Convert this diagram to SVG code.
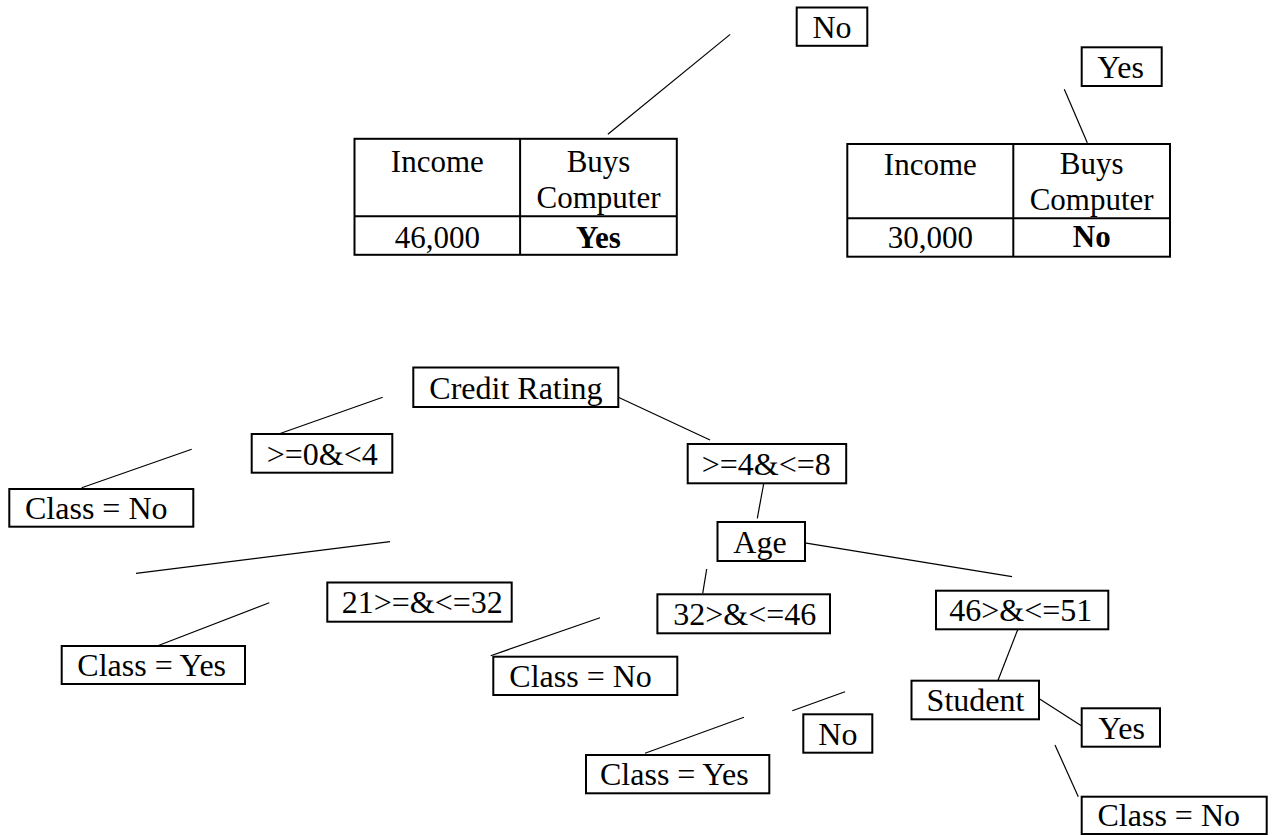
<svg xmlns="http://www.w3.org/2000/svg" width="1274" height="835" viewBox="0 0 1274 835">
<style>
  .bg { fill: #ffffff; }
  .box { fill: #ffffff; stroke: #000000; stroke-width: 2; }
  .tbl { fill: none; stroke: #000000; stroke-width: 2; }
  .t { font-size: 32px; fill: #000000; }
  .tt { font-size: 31px; fill: #000000; text-anchor: middle; }
  .b { font-weight: bold; }
  .conn line { stroke: #000000; stroke-width: 1.2; }
</style>
<rect class="bg" x="0" y="0" width="1274" height="835"/>

<g id="connectors" class="conn">
  <line x1="730.2" y1="34.4" x2="607.9" y2="134.3"/>
  <line x1="1064.3" y1="89.3" x2="1087.3" y2="142.7"/>
  <line x1="382.7" y1="397.3" x2="278.7" y2="434"/>
  <line x1="191.7" y1="449.3" x2="81.7" y2="487.7"/>
  <line x1="390" y1="541.7" x2="136" y2="573.3"/>
  <line x1="269.3" y1="602.7" x2="150" y2="648.7"/>
  <line x1="599" y1="388.3" x2="710" y2="440"/>
  <line x1="764.5" y1="479.3" x2="757.3" y2="518.3"/>
  <line x1="801.7" y1="542.3" x2="1012" y2="576.7"/>
  <line x1="706.7" y1="569" x2="702.7" y2="593.3"/>
  <line x1="600" y1="617.7" x2="490.7" y2="655.7"/>
  <line x1="1020.8" y1="621.7" x2="996.2" y2="685"/>
  <line x1="1035" y1="696" x2="1081.7" y2="726"/>
  <line x1="1055" y1="745" x2="1078.3" y2="796.7"/>
  <line x1="845" y1="691.7" x2="792.3" y2="710.7"/>
  <line x1="744" y1="717.3" x2="645" y2="753.3"/>
</g>

<g font-family="Liberation Serif, Times New Roman, DejaVu Serif, serif">
<g id="table1">
  <rect class="tbl" x="354.5" y="138.8" width="322.3" height="116"/>
  <line class="tbl" x1="520.1" y1="138.8" x2="520.1" y2="254.8"/>
  <line class="tbl" x1="354.5" y1="216.3" x2="676.8" y2="216.3"/>
  <text class="tt" x="437.3" y="171.5">Income</text>
  <text class="tt" x="598.5" y="172">Buys</text>
  <text class="tt" x="598.5" y="207.5">Computer</text>
  <text class="tt" x="437.3" y="247.5">46,000</text>
  <text class="tt b" x="598.5" y="247.5">Yes</text>
</g>

<g id="table2">
  <rect class="tbl" x="847.3" y="144" width="322.7" height="112.7"/>
  <line class="tbl" x1="1013.3" y1="144" x2="1013.3" y2="256.7"/>
  <line class="tbl" x1="847.3" y1="218.3" x2="1170" y2="218.3"/>
  <text class="tt" x="930.3" y="175">Income</text>
  <text class="tt" x="1091.7" y="173.5">Buys</text>
  <text class="tt" x="1091.7" y="209.5">Computer</text>
  <text class="tt" x="930.3" y="248">30,000</text>
  <text class="tt b" x="1091.7" y="247">No</text>
</g>

<g id="n-no-top"><rect class="box" x="796.7" y="7.5" width="70.6" height="38.3"/><text class="t" x="812.5" y="37.5">No</text></g>
<g id="n-yes-top"><rect class="box" x="1081.7" y="47.3" width="80" height="38.7"/><text class="t" x="1097.3" y="77.5">Yes</text></g>
<g id="n-credit"><rect class="box" x="413.3" y="367.5" width="205" height="39.5"/><text class="t" x="429.3" y="398.5">Credit Rating</text></g>
<g id="n-ge0"><rect class="box" x="251.7" y="434" width="140.6" height="38.7"/><text class="t" x="266.7" y="464.5">&gt;=0&amp;&lt;4</text></g>
<g id="n-classno-l"><rect class="box" x="9.3" y="489" width="184" height="37.7"/><text class="t" x="25" y="518.5">Class = No</text></g>
<g id="n-21"><rect class="box" x="327.3" y="582.5" width="184.4" height="39.2"/><text class="t" x="341.7" y="613">21&gt;=&amp;&lt;=32</text></g>
<g id="n-classyes-l"><rect class="box" x="61.7" y="646" width="183.3" height="38"/><text class="t" x="77.3" y="675.5">Class = Yes</text></g>
<g id="n-ge4"><rect class="box" x="687.7" y="444" width="158.5" height="39.3"/><text class="t" x="701.7" y="474.5">&gt;=4&amp;&lt;=8</text></g>
<g id="n-age"><rect class="box" x="717.5" y="522" width="87.5" height="39"/><text class="t" x="733.3" y="552.5">Age</text></g>
<g id="n-32"><rect class="box" x="657.4" y="594.3" width="172.6" height="39"/><text class="t" x="673.3" y="624.8">32&gt;&amp;&lt;=46</text></g>
<g id="n-46"><rect class="box" x="936" y="590.7" width="172.3" height="38.6"/><text class="t" x="949.3" y="621">46&gt;&amp;&lt;=51</text></g>
<g id="n-classno-m"><rect class="box" x="493.3" y="656.7" width="184" height="38.3"/><text class="t" x="509.3" y="686.5">Class = No</text></g>
<g id="n-student"><rect class="box" x="911.5" y="680.7" width="127.5" height="38.6"/><text class="t" x="926.6" y="711">Student</text></g>
<g id="n-yes-br"><rect class="box" x="1081.7" y="708.3" width="78.3" height="38.4"/><text class="t" x="1098.3" y="738.5">Yes</text></g>
<g id="n-no-b"><rect class="box" x="803.3" y="714.3" width="69" height="38.4"/><text class="t" x="818.3" y="744.5">No</text></g>
<g id="n-classyes-b"><rect class="box" x="586" y="755" width="183.3" height="38.3"/><text class="t" x="600" y="785">Class = Yes</text></g>
<g id="n-classno-br"><rect class="box" x="1081.7" y="796.7" width="185" height="37.3"/><text class="t" x="1097.5" y="826">Class = No</text></g>
</g>
</svg>
